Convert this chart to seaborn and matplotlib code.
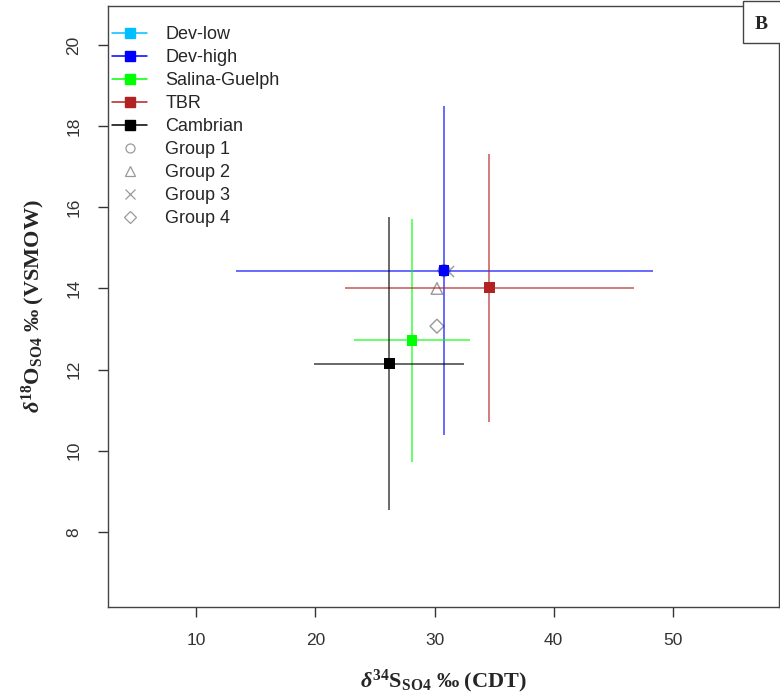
import numpy as np
import pandas as pd
import seaborn as sns
import matplotlib.pyplot as plt
from matplotlib.lines import Line2D
from matplotlib.patches import Rectangle

# formation means and error half-widths (d34S, d18O)
units = ['Dev-low', 'Dev-high', 'Salina-Guelph', 'TBR', 'Cambrian']
colors = ['#00BFFF', '#0000FF', '#00FF00', '#B22222', '#000000']
s34_mean = [np.nan, 30.8, 28.1, 34.6, 26.2]
s34_err = [np.nan, 17.5, 4.9, 12.1, 6.3]
o18_mean = [np.nan, 14.44, 12.72, 14.02, 12.15]
o18_err = [np.nan, 4.05, 3.0, 3.3, 3.6]

# group means
groups = ['Group 1', 'Group 2', 'Group 3', 'Group 4']
group_markers = ['o', '^', 'x', 'D']
g_s34 = [30.8, 30.2, 31.1, 30.2]
g_o18 = [14.44, 14.0, 14.42, 13.07]

sns.set_style('white')
plt.rcParams['font.family'] = ['Liberation Sans', 'DejaVu Sans']
plt.rcParams['mathtext.fontset'] = 'custom'
plt.rcParams['mathtext.rm'] = 'Liberation Serif:bold'
plt.rcParams['mathtext.bf'] = 'Liberation Serif:bold'
plt.rcParams['mathtext.it'] = 'Liberation Serif:italic:bold'

fig = plt.figure(figsize=(7.8, 6.95), dpi=100)
ax = fig.add_axes([108 / 780, 1 - 607 / 695, (779 - 108) / 780, (607 - 6) / 695])

df = pd.DataFrame({'unit': units, 's34': s34_mean, 'o18': o18_mean,
                   'xe': s34_err, 'ye': o18_err})

# group symbols (drawn first, formation squares on top)
gdf = pd.DataFrame({'group': groups, 's34': g_s34, 'o18': g_o18})
for g, m in zip(groups, group_markers):
    sub = gdf[gdf['group'] == g]
    if m == 'x':
        ax.scatter(sub['s34'], sub['o18'], marker='x', s=65, color='#999999',
                   linewidths=1.0, zorder=2)
    else:
        ax.scatter(sub['s34'], sub['o18'], marker=m, s=70 if m != 'D' else 50,
                   facecolors='none', edgecolors='#999999', linewidths=1.0, zorder=2)

for i, row in df.iterrows():
    if np.isnan(row['s34']):
        continue
    ax.errorbar(row['s34'], row['o18'], xerr=row['xe'], yerr=row['ye'],
                fmt='none', ecolor=colors[i], elinewidth=1.1, capsize=0,
                alpha=0.75, zorder=3)

sns.scatterplot(data=df.dropna(), x='s34', y='o18', hue='unit',
                palette=dict(zip(units, colors)), marker='s', s=60,
                edgecolor='none', legend=False, ax=ax, zorder=4)

ax.set_xlim(2.6, 58.9)
ax.set_ylim(6.15, 20.96)
ax.set_xticks([10, 20, 30, 40, 50])
ax.set_yticks([8, 10, 12, 14, 16, 18, 20])
ax.tick_params(axis='both', direction='out', length=7, width=1.0,
               colors='#333333', labelsize=12.5, pad=12, bottom=True, left=True)
ax.tick_params(axis='y', labelrotation=90)
for lab in ax.get_yticklabels():
    lab.set_va('center')
for sp in ax.spines.values():
    sp.set_color('#444444')
    sp.set_linewidth(1.0)

ax.set_xlabel(r'$\delta^{34}\mathrm{S}_{\mathrm{SO4}}$' + ' \u2030 (CDT)',
              fontfamily='Liberation Serif', fontweight='bold', fontsize=16, labelpad=14)
ax.set_ylabel(r'$\delta^{18}\mathrm{O}_{\mathrm{SO4}}$' + ' \u2030 (VSMOW)',
              fontfamily='Liberation Serif', fontweight='bold', fontsize=16, labelpad=14)

handles = [Line2D([0], [0], color=c, marker='s', markersize=6.5, lw=1.1) for c in colors]
handles += [Line2D([0], [0], color='#999999', marker=m, markersize=6.5 if m != 'D' else 6,
                   lw=0, markerfacecolor='none', markeredgewidth=0.9)
            for m in group_markers]
ax.legend(handles, units + groups, loc='upper left', frameon=False, fontsize=13,
          handlelength=1.95, handletextpad=1.0, labelspacing=0.33,
          borderaxespad=0.0, borderpad=0.3, bbox_to_anchor=(-0.002, 0.975))

# panel label box in the top-right corner
ax.add_patch(Rectangle((0.946, 0.938), 0.06, 0.07, transform=ax.transAxes,
                       facecolor='white', edgecolor='#444444', lw=1.0,
                       clip_on=False, zorder=5))
ax.text(0.973, 0.969, 'B', transform=ax.transAxes, ha='center', va='center',
        fontfamily='Liberation Serif', fontweight='bold', fontsize=14, zorder=6)

fig.savefig('out.png', dpi=100)
